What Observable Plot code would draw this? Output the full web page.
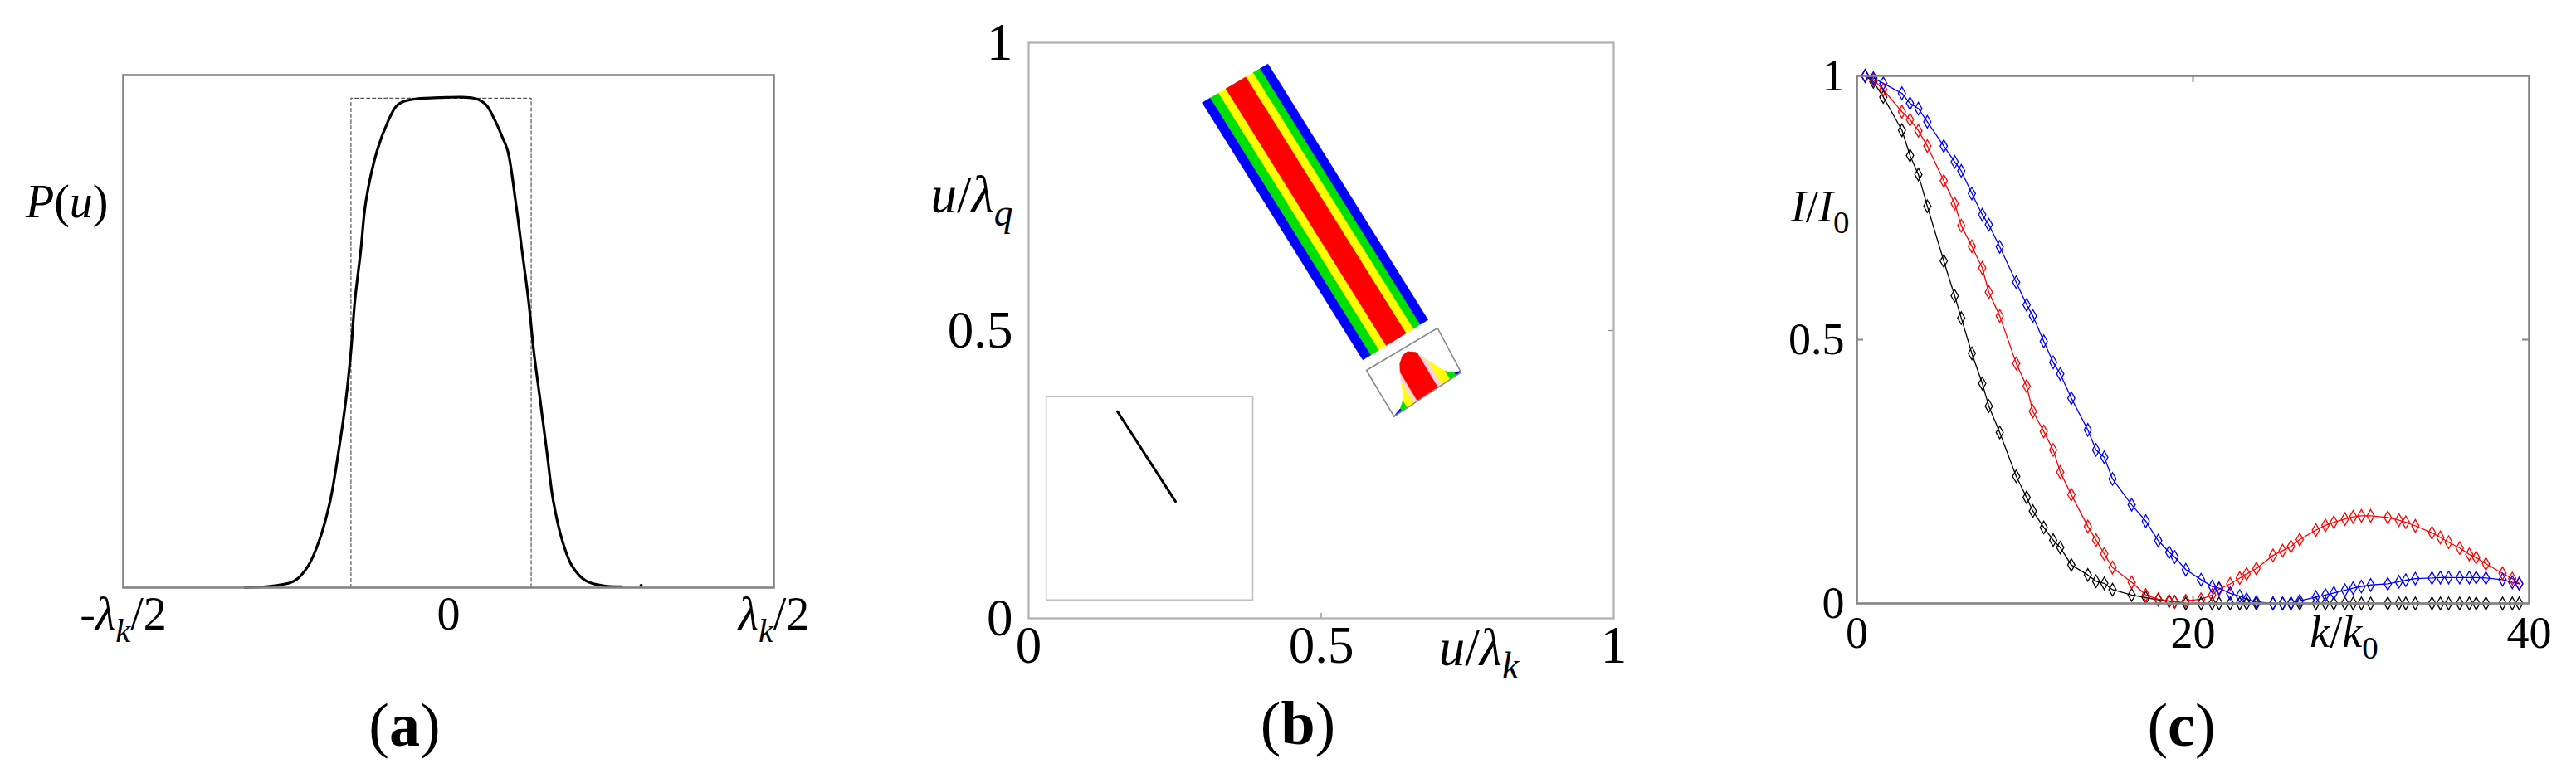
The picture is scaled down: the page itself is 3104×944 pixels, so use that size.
<!DOCTYPE html>
<html><head><meta charset="utf-8">
<script src="https://cdn.jsdelivr.net/npm/d3@7"></script>
<script src="https://cdn.jsdelivr.net/npm/@observablehq/plot@0.6"></script>
<style>
html,body{margin:0;padding:0;background:#fff;}
#root{position:relative;width:3104px;height:944px;overflow:hidden;background:#fff;}
.panel{position:absolute;top:0;}
.panel svg{max-width:none !important;}
.panel svg text{font-family:'Liberation Serif','Times New Roman',serif !important;}
</style></head><body><div id="root"></div>
<script>
// ---------------- Panel (a): P(u) profile ----------------
const aTicks = [-0.5, 0, 0.5];
const aTickLabels = ["-λ_k/2", "0", "λ_k/2"];
const aU = [-0.313, -0.2665, -0.237, -0.216, -0.199, -0.182, -0.169, -0.158, -0.150, -0.144, -0.135, -0.127, -0.110, -0.093, -0.080, -0.068, -0.047, -0.013, 0.021, 0.038, 0.051, 0.059, 0.072, 0.082, 0.091, 0.103, 0.113, 0.123, 0.131, 0.141, 0.151, 0.161, 0.175, 0.190, 0.2115, 0.241, 0.2665];
const aP = [0.0, 0.004, 0.013, 0.042, 0.091, 0.169, 0.266, 0.364, 0.461, 0.559, 0.657, 0.754, 0.852, 0.910, 0.940, 0.949, 0.954, 0.956, 0.957, 0.955, 0.949, 0.940, 0.910, 0.881, 0.852, 0.754, 0.657, 0.559, 0.461, 0.364, 0.266, 0.169, 0.091, 0.042, 0.013, 0.003, 0.002];
const aStrayU = [0.296];
const aStrayP = [0.004];
const aBoxU = [-0.150, -0.150, 0.127, 0.127];
const aBoxP = [0, 0.955, 0.955, 0];
const aAxisLabel = "P(u)";
const aPanelLabel = "(**a**)";

// ---------------- Panel (b): rotated distribution ----------------
const bTicks = [0, 0.5, 1];
const bTickLabels = ["0", "0.5", "1"];
// band corners: top-left, top-right, bottom-right, bottom-left
const bandCornerX = [0.2969, 0.4089, 0.6823, 0.5712];
const bandCornerY = [0.8958, 0.9630, 0.5187, 0.4491];
const bandStops = [0, 0.125, 0.25, 0.36, 0.67, 0.78, 0.885, 1];
const bandColors = ["#0000ff", "#00e000", "#ffff00", "#ff0000", "#ffff00", "#00e000", "#0000ff"];
// small profile box corners: top-left, top-right, bottom-right, bottom-left
const profBoxX = [0.5773, 0.6989, 0.7390, 0.6245];
const profBoxY = [0.4308, 0.5043, 0.4275, 0.3506];
const profS = [0, 0.03, 0.12, 0.2, 0.26, 0.32, 0.40, 0.48, 0.56, 0.64, 0.70, 0.76, 0.82, 0.88, 0.94, 1];
const profH = [0, 0.02, 0.06, 0.16, 0.32, 0.55, 0.76, 0.86, 0.87, 0.78, 0.60, 0.40, 0.22, 0.11, 0.05, 0.03];
const profStops = [0, 0.12, 0.2, 0.3, 0.35, 0.66, 0.72, 0.84, 0.93, 1];
const profColors = ["#0000ff", "#00e000", "#ffff00", "#ffd6d6", "#ff0000", "#ffd6d6", "#ffff00", "#00e000", "#0000ff"];
const insetBoxX = [0.030, 0.383];
const insetBoxY = [0.032, 0.385];
const insetLineX = [0.152, 0.251];
const insetLineY = [0.359, 0.203];
const bXLabel = "u/λ_k";
const bYLabel = "u/λ_q";
const bPanelLabel = "(**b**)";

// ---------------- Panel (c): I/I0 vs k/k0 ----------------
const cTicksX = [0, 20, 40];
const cTicksY = [0, 0.5, 1];
const cTickLabelsY = ["0", "0.5", "1"];
const cK = [0.49, 0.98, 1.57, 2.68, 3.16, 3.66, 4.19, 5.17, 5.82, 6.21, 6.84, 7.46, 7.85, 8.50, 9.48, 10.10, 10.47, 11.12, 11.68, 12.10, 12.76, 13.74, 14.23, 14.72, 15.21, 16.35, 17.19, 17.93, 18.58, 18.91, 19.57, 20.48, 21.14, 21.55, 22.21, 22.78, 23.19, 23.77, 24.76, 25.33, 25.83, 26.35, 27.31, 27.88, 28.38, 29.04, 29.53, 30.02, 30.57, 31.59, 32.25, 32.66, 33.23, 34.22, 34.72, 35.21, 35.87, 36.44, 36.85, 37.43, 38.42, 39.00, 39.41];
const cBlack = [1.0, 0.989, 0.960, 0.897, 0.849, 0.813, 0.753, 0.649, 0.583, 0.541, 0.474, 0.417, 0.374, 0.324, 0.241, 0.201, 0.175, 0.144, 0.120, 0.106, 0.073, 0.054, 0.042, 0.038, 0.026, 0.016, 0.011, 0.007, 0.004, 0.003, 0, 0, 0, 0, 0, 0, 0, 0, 0, 0, 0, 0, 0, 0, 0, 0, 0, 0, 0, 0, 0, 0, 0, 0, 0, 0, 0, 0, 0, 0, 0, 0, 0];
const cRed = [1.0, 0.993, 0.974, 0.932, 0.917, 0.896, 0.867, 0.801, 0.758, 0.716, 0.677, 0.636, 0.590, 0.545, 0.455, 0.412, 0.364, 0.326, 0.291, 0.249, 0.206, 0.146, 0.120, 0.094, 0.068, 0.040, 0.016, 0.008, 0.005, 0.003, 0.005, 0.008, 0.016, 0.027, 0.037, 0.048, 0.056, 0.066, 0.091, 0.100, 0.108, 0.121, 0.139, 0.148, 0.154, 0.160, 0.164, 0.166, 0.166, 0.163, 0.158, 0.154, 0.147, 0.134, 0.125, 0.116, 0.105, 0.093, 0.087, 0.075, 0.057, 0.047, 0.038];
const cBlue = [1.0, 0.996, 0.986, 0.967, 0.948, 0.938, 0.913, 0.867, 0.837, 0.820, 0.777, 0.737, 0.718, 0.676, 0.609, 0.566, 0.545, 0.497, 0.457, 0.435, 0.389, 0.329, 0.291, 0.277, 0.236, 0.187, 0.156, 0.119, 0.097, 0.088, 0.064, 0.045, 0.032, 0.029, 0.019, 0.014, 0.008, 0.003, 0, 0, 0, 0.005, 0.012, 0.016, 0.020, 0.025, 0.029, 0.032, 0.035, 0.037, 0.041, 0.044, 0.047, 0.048, 0.049, 0.049, 0.049, 0.049, 0.049, 0.048, 0.045, 0.040, 0.037];
const cSeriesNames = ["black", "red", "blue"];
const cSeriesColors = ["#2a2a2a", "#ff1a1a", "#1a1aff"];
const cXLabel = "k/k_0";
const cYLabel = "I/I_0";
const cPanelLabel = "(**c**)";

// ---------------- helpers ----------------
const FONT = "'Liberation Serif', 'Times New Roman', serif";
function richify(svg) {
  d3.select(svg).selectAll("text").each(function () {
    const el = this;
    el.setAttribute("font-family", FONT);
    el.style.fontFamily = FONT;
    if (el.querySelector("tspan")) return;
    const s = el.textContent;
    if (!/[A-Za-z\u0370-\u03FF_*]/.test(s)) return;
    const fs = parseFloat(getComputedStyle(el).fontSize) || 16;
    const runs = [];
    let bold = false;
    for (let i = 0; i < s.length; i++) {
      if (s[i] === "*" && s[i + 1] === "*") { bold = !bold; i++; continue; }
      let sub = false, ch = s[i];
      if (ch === "_") { sub = true; ch = s[++i]; }
      const italic = !bold && /[A-Za-z\u0370-\u03FF]/.test(ch);
      const last = runs[runs.length - 1];
      if (last && last.sub === sub && last.italic === italic && last.bold === bold) last.t += ch;
      else runs.push({t: ch, sub, italic, bold});
    }
    el.textContent = "";
    let shifted = false;
    for (const r of runs) {
      const t = document.createElementNS("http://www.w3.org/2000/svg", "tspan");
      t.textContent = r.t;
      if (r.italic) t.setAttribute("font-style", "italic");
      if (r.bold) t.setAttribute("font-weight", "bold");
      if (r.sub && !shifted) { t.setAttribute("dy", (0.26 * fs).toFixed(1)); shifted = true; }
      else if (!r.sub && shifted) { t.setAttribute("dy", (-0.26 * fs).toFixed(1)); shifted = false; }
      if (r.sub) t.setAttribute("font-size", (0.72 * fs).toFixed(1));
      el.appendChild(t);
    }
  });
}
const root = document.getElementById("root");
function place(svg, left, width) {
  const d = document.createElement("div");
  d.className = "panel";
  d.style.left = left + "px";
  d.style.width = width + "px";
  d.appendChild(svg);
  root.appendChild(d);
  richify(svg);
}
const styleBase = (fs) => ({fontFamily: FONT, fontSize: fs + "px", color: "#000", background: "white", overflow: "visible"});

// ---------------- build panel (a) ----------------
const aCurve = aU.map((u, i) => ({u, p: aP[i]}));
const aBox = aBoxU.map((u, i) => ({u, p: aBoxP[i]}));
const aStray = aStrayU.map((u, i) => ({u, p: aStrayP[i]}));
const plotA = Plot.plot({
  width: 1040, height: 944,
  marginLeft: 148, marginRight: 108, marginTop: 90, marginBottom: 236,
  style: styleBase(56),
  x: {domain: [-0.5, 0.5], ticks: aTicks, tickFormat: d => aTickLabels[aTicks.indexOf(d)], tickSize: 0, tickPadding: 11, label: null},
  y: {domain: [0, 1], axis: null, label: null},
  marks: [
    Plot.line(aBox, {x: "u", y: "p", stroke: "#555", strokeWidth: 1.2, strokeDasharray: "4,3"}),
    Plot.line(aCurve, {x: "u", y: "p", stroke: "#000", strokeWidth: 3.2, curve: "catmull-rom"}),
    Plot.dot(aStray, {x: "u", y: "p", r: 2, fill: "#000", stroke: "none"}),
    Plot.frame({stroke: "#858585", strokeWidth: 2.6}),
    Plot.text([aAxisLabel], {frameAnchor: "top-left", dx: -18, dy: 154, textAnchor: "end", lineAnchor: "middle", fontSize: 56, text: d => d}),
    Plot.text([aPanelLabel], {frameAnchor: "bottom", dx: -53, dy: 167, lineAnchor: "middle", fontSize: 74, text: d => d})
  ]
});
place(plotA, 0, 1040);

// ---------------- build panel (b) ----------------
function bandPoint(s, t) {
  const tx = bandCornerX[0] + s * (bandCornerX[1] - bandCornerX[0]);
  const ty = bandCornerY[0] + s * (bandCornerY[1] - bandCornerY[0]);
  const bx = bandCornerX[3] + s * (bandCornerX[2] - bandCornerX[3]);
  const by = bandCornerY[3] + s * (bandCornerY[2] - bandCornerY[3]);
  return {x: tx + t * (bx - tx), y: ty + t * (by - ty)};
}
const bandPolys = bandColors.map((c, i) => {
  const s0 = bandStops[i], s1 = bandStops[i + 1];
  return {color: c, pts: [bandPoint(s0, 0), bandPoint(s1, 0), bandPoint(s1, 1), bandPoint(s0, 1), bandPoint(s0, 0)]};
});
function profPoint(s, h) {
  const ox = profBoxX[3], oy = profBoxY[3];
  const ux = profBoxX[2] - ox, uy = profBoxY[2] - oy;
  const vx = profBoxX[0] - ox, vy = profBoxY[0] - oy;
  return {x: ox + s * ux + h * vx, y: oy + s * uy + h * vy};
}
function hAt(s) {
  for (let i = 0; i < profS.length - 1; i++) {
    if (s >= profS[i] && s <= profS[i + 1]) {
      const t = (s - profS[i]) / (profS[i + 1] - profS[i] || 1);
      return profH[i] + t * (profH[i + 1] - profH[i]);
    }
  }
  return 0;
}
const profPolys = profColors.map((c, i) => {
  const s0 = profStops[i], s1 = profStops[i + 1];
  const pts = [profPoint(s0, 0), profPoint(s0, hAt(s0))];
  profS.forEach((s, j) => { if (s > s0 && s < s1) pts.push(profPoint(s, profH[j])); });
  pts.push(profPoint(s1, hAt(s1)), profPoint(s1, 0), profPoint(s0, 0));
  return {color: c, pts};
});
const profBox = [0, 1, 2, 3, 0].map(i => ({x: profBoxX[i], y: profBoxY[i]}));
const insetBox = [[0, 0], [1, 0], [1, 1], [0, 1], [0, 0]].map(([i, j]) => ({x: insetBoxX[i], y: insetBoxY[j]}));
const insetLine = insetLineX.map((x, i) => ({x, y: insetLineY[i]}));
const plotB = Plot.plot({
  width: 1040, height: 944,
  marginLeft: 199, marginRight: 136, marginTop: 51, marginBottom: 199,
  style: styleBase(63),
  x: {domain: [0, 1], ticks: bTicks, tickFormat: d => bTickLabels[bTicks.indexOf(d)], tickSize: 0, tickPadding: 9, label: null},
  y: {domain: [0, 1], ticks: bTicks, tickFormat: d => bTickLabels[bTicks.indexOf(d)], tickSize: 0, tickPadding: 19, label: null},
  marks: [
    ...bandPolys.map(p => Plot.line(p.pts, {x: "x", y: "y", fill: p.color, stroke: p.color, strokeWidth: 0.8, curve: "linear"})),
    ...profPolys.map(p => Plot.line(p.pts, {x: "x", y: "y", fill: p.color, stroke: p.color, strokeWidth: 0.6, curve: "linear"})),
    Plot.line(profBox, {x: "x", y: "y", stroke: "#8a8a8a", strokeWidth: 1.6}),
    Plot.line(insetBox, {x: "x", y: "y", stroke: "#c0c0c0", strokeWidth: 1.6}),
    Plot.line(insetLine, {x: "x", y: "y", stroke: "#000", strokeWidth: 3}),
    Plot.ruleX([bTicks[1]], {stroke: "#999", strokeWidth: 1.5, insetTop: 694 - 6}),
    Plot.ruleY([bTicks[1]], {stroke: "#999", strokeWidth: 1.5, insetLeft: 705 - 6}),
    Plot.frame({stroke: "#b0b0b0", strokeWidth: 2.2}),
    Plot.text([bYLabel], {frameAnchor: "top-left", dx: -19, dy: 184, textAnchor: "end", lineAnchor: "middle", fontSize: 63, text: d => d}),
    Plot.text([bXLabel], {frameAnchor: "bottom", dx: 190, dy: 56, lineAnchor: "bottom", fontSize: 63, text: d => d}),
    Plot.text([bPanelLabel], {frameAnchor: "bottom", dx: -28, dy: 128, lineAnchor: "middle", fontSize: 74, text: d => d})
  ]
});
place(plotB, 1040, 1040);

// ---------------- build panel (c) ----------------
const cSeriesValues = [cBlack, cRed, cBlue];
const cData = cSeriesNames.flatMap((name, si) => cK.map((k, i) => ({k, v: cSeriesValues[si][i], s: name})));
const plotC = Plot.plot({
  width: 1024, height: 944,
  marginLeft: 157, marginRight: 57, marginTop: 91, marginBottom: 217,
  style: styleBase(54),
  x: {domain: [0, 40], ticks: cTicksX, tickFormat: d => String(d), tickSize: 0, tickPadding: 15, label: null},
  y: {domain: [0, 1], ticks: cTicksY, tickFormat: d => cTickLabelsY[cTicksY.indexOf(d)], tickSize: 0, tickPadding: 15, label: null},
  color: {domain: cSeriesNames, range: cSeriesColors},
  marks: [
    Plot.ruleX([cTicksX[1]], {stroke: "#888", strokeWidth: 2, insetBottom: 636 - 8}),
    Plot.ruleX([cTicksX[1]], {stroke: "#888", strokeWidth: 2, insetTop: 636 - 8}),
    Plot.ruleY([cTicksY[1]], {stroke: "#888", strokeWidth: 2, insetLeft: 810 - 8}),
    Plot.ruleY([cTicksY[1]], {stroke: "#888", strokeWidth: 2, insetRight: 810 - 8}),
    Plot.line(cData, {x: "k", y: "v", z: "s", stroke: "s", strokeWidth: 1.3}),
    Plot.dot(cData, {x: "k", y: "v", stroke: "s", symbol: "diamond", r: 4.6, fill: "none", strokeWidth: 1.3}),
    Plot.frame({stroke: "#858585", strokeWidth: 2.6}),
    Plot.text([cYLabel], {frameAnchor: "top-left", dx: -9, dy: 158, textAnchor: "end", lineAnchor: "middle", fontSize: 54, text: d => d}),
    Plot.text([cXLabel], {frameAnchor: "bottom", dx: 182, dy: 52, lineAnchor: "bottom", fontSize: 54, text: d => d}),
    Plot.text([cPanelLabel], {frameAnchor: "bottom", dx: -14, dy: 148, lineAnchor: "middle", fontSize: 74, text: d => d})
  ]
});
place(plotC, 2080, 1024);
</script></body></html>
